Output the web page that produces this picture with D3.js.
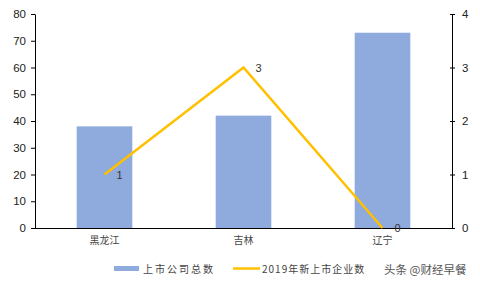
<!DOCTYPE html>
<html><head><meta charset="utf-8">
<script src="https://cdn.jsdelivr.net/npm/d3@7"></script>
<style>body{margin:0;background:#fff}svg{display:block}text{font-family:"Noto Sans CJK SC","DejaVu Sans",sans-serif}</style>
</head><body><svg id="c" width="480" height="288"></svg>
<script>
const categories = ["黑龙江","吉林","辽宁"];
const totalListed = [38, 42, 73];
const newListed2019 = [1, 3, 0];
const leftTicks = [0,10,20,30,40,50,60,70,80];
const rightTicks = [0,1,2,3,4];
const seriesNames = ["上市公司总数","2019年新上市企业数"];

const svg = d3.select("#c");
const L = 35, R = 452, T = 14, B = 228;
const x = d3.scaleBand().domain(categories).range([L, R]).padding(0);
const yL = d3.scaleLinear().domain([0,80]).range([B, T]);
const yR = d3.scaleLinear().domain([0,4]).range([B, T]);
const barW = x.bandwidth()*0.4;
const barColor = "#8FAADC", lineColor = "#FFC000";

svg.append("g").selectAll("rect").data(totalListed).join("rect")
  .attr("x",(d,i)=>x(categories[i])+x.bandwidth()/2-barW/2)
  .attr("y",d=>yL(d)).attr("width",barW).attr("height",d=>B-yL(d))
  .attr("fill",barColor);

const gl = svg.append("g").attr("transform",`translate(${L},0)`)
  .call(d3.axisLeft(yL).tickValues(leftTicks).tickFormat(d3.format("d")).tickSize(4).tickPadding(5).tickSizeOuter(0));
const gr = svg.append("g").attr("transform",`translate(${R},0)`)
  .call(d3.axisRight(yR).tickValues(rightTicks).tickFormat(d3.format("d")).tickSize(3).tickPadding(7).tickSizeOuter(0));
gr.selectAll(".tick line").attr("x1",-2);
const gx = svg.append("g").attr("transform",`translate(0,${B})`)
  .call(d3.axisBottom(x).tickSize(0).tickPadding(9).tickSizeOuter(0));
[gl,gr,gx].forEach(g=>{
  g.selectAll("path,line").attr("stroke","#000").attr("stroke-width",1);
  g.selectAll("text").attr("fill","#222").style("font-size","11.5px")
   .style("font-family",'"Liberation Sans","DejaVu Sans",sans-serif');
});
gx.selectAll("text").style("font-family",'"Noto Sans CJK SC",sans-serif').style("font-size","10px").attr("fill","#444");
gx.select(".domain").attr("d",`M${L},0.5H${R}`);

const line = d3.line().x((d,i)=>x(categories[i])+x.bandwidth()/2).y(d=>yR(d));
svg.append("path").datum(newListed2019).attr("d",line)
  .attr("fill","none").attr("stroke",lineColor).attr("stroke-width",2.5);
svg.append("g").selectAll("text").data(newListed2019).join("text")
  .attr("x",(d,i)=>x(categories[i])+x.bandwidth()/2+12)
  .attr("y",d=>yR(d)+4).text(d=>d)
  .style("font-size","11px").style("font-family",'"Liberation Sans",sans-serif').attr("fill","#333");

// legend
const lg = svg.append("g");
lg.append("rect").attr("x",114).attr("y",266).attr("width",25).attr("height",5).attr("fill",barColor);
lg.append("text").attr("x",143).attr("y",273).text(seriesNames[0])
  .style("font-size","10px").attr("fill","#444").style("letter-spacing","2px");
lg.append("line").attr("x1",233).attr("x2",260).attr("y1",268.5).attr("y2",268.5)
  .attr("stroke",lineColor).attr("stroke-width",2.5);
lg.append("text").attr("x",262).attr("y",273).text(seriesNames[1])
  .style("font-size","10px").attr("fill","#444").style("letter-spacing","1px");
svg.append("text").attr("x",384).attr("y",274).text("头条 @财经早餐")
  .style("font-size","11.5px").attr("fill","#555");
</script></body></html>
